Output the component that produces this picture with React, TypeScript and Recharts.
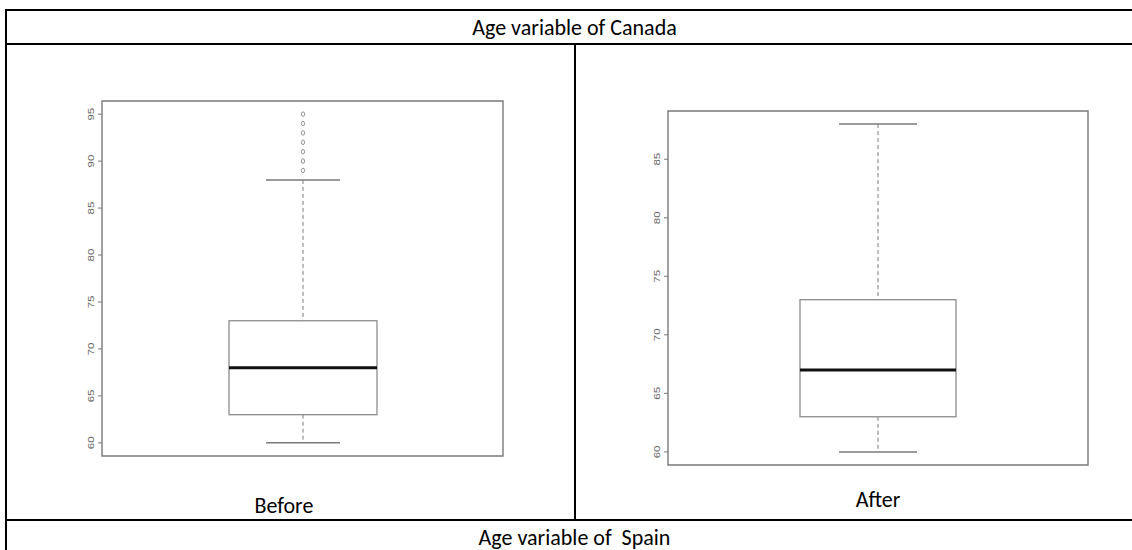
import { ComposedChart, Bar, XAxis, YAxis, ReferenceArea } from "recharts";

// five-number summaries: [lower whisker, Q1, median, Q3, upper whisker]
const categories = ["Age"];
const beforeStats = [60, 63, 68, 73, 88];
const beforeOutliers = [89, 90, 91, 92, 93, 94, 95];
const beforeTicks = [60, 65, 70, 75, 80, 85, 90, 95];
const afterStats = [60, 63, 67, 73, 88];
const afterOutliers: number[] = [];
const afterTicks = [60, 65, 70, 75, 80, 85];

const GRAY = "#7a7a7a";
const CELL_FONT = 'Carlito, "Liberation Sans Narrow", "Open Sans", sans-serif';

// R-style range: data extent padded by 4% on each side
function padDomain(stats: number[], outliers: number[]): [number, number] {
  const all = [...stats, ...outliers];
  const lo = Math.min(...all);
  const hi = Math.max(...all);
  const pad = (hi - lo) * 0.04;
  return [lo - pad, hi + pad];
}

function BoxShape(props: any) {
  const { x, y, width, height, payload } = props;
  const [lo, q1, med, q3, hi] = payload.stats as number[];
  const top = Math.min(y, y + height);
  const bottom = Math.max(y, y + height);
  // bar spans lo..hi, so map the other values linearly onto it
  const py = (v: number) => top + ((bottom - top) * (hi - v)) / (hi - lo);
  const cx = x + width / 2;
  const cap = width / 4;
  return (
    <g>
      <line x1={cx} x2={cx} y1={py(hi)} y2={py(q3)} stroke={GRAY} strokeWidth={1} strokeDasharray="4 3" />
      <line x1={cx} x2={cx} y1={py(q1)} y2={py(lo)} stroke={GRAY} strokeWidth={1} strokeDasharray="4 3" />
      <line x1={cx - cap} x2={cx + cap} y1={py(hi)} y2={py(hi)} stroke={GRAY} strokeWidth={1.5} />
      <line x1={cx - cap} x2={cx + cap} y1={py(lo)} y2={py(lo)} stroke={GRAY} strokeWidth={1.5} />
      <rect x={x} y={py(q3)} width={width} height={py(q1) - py(q3)} fill="#fff" stroke="#8c8c8c" strokeWidth={1.3} />
      <line x1={x} x2={x + width} y1={py(med)} y2={py(med)} stroke="#111" strokeWidth={3} />
      {(payload.outliers as number[]).map((v) => (
        <ellipse key={v} cx={cx} cy={py(v)} rx={1.6} ry={2.3} fill="none" stroke={GRAY} strokeWidth={0.8} />
      ))}
    </g>
  );
}

function RotatedTick(props: any) {
  const { x, y, payload } = props;
  return (
    <text
      transform={`translate(${x - 2} ${y}) scale(1 1.35) rotate(-90)`}
      textAnchor="middle"
      fontSize={8.5}
      fontFamily='"Liberation Sans", Arial, sans-serif'
      fill="#666"
    >
      {payload.value}
    </text>
  );
}

interface BoxPanelProps {
  stats: number[];
  outliers: number[];
  ticks: number[];
  width: number;
  height: number;
  margin: { top: number; right: number; bottom: number; left: number };
  boxWidth: number;
}

function BoxPanel({ stats, outliers, ticks, width, height, margin, boxWidth }: BoxPanelProps) {
  const domain = padDomain(stats, outliers);
  const data = categories.map((name) => ({ name, stats, outliers }));
  return (
    <ComposedChart width={width} height={height} data={data} margin={margin}>
      <XAxis dataKey="name" hide />
      <YAxis
        type="number"
        domain={domain}
        ticks={ticks}
        interval={0}
        allowDataOverflow
        width={42}
        axisLine={false}
        tickSize={4}
        tickLine={{ stroke: GRAY }}
        tick={<RotatedTick />}
      />
      <ReferenceArea
        y1={domain[0]}
        y2={domain[1]}
        fill="none"
        stroke={GRAY}
        strokeWidth={1.4}
        ifOverflow="visible"
      />
      <Bar
        dataKey={(d: any) => [d.stats[0], d.stats[4]]}
        barSize={boxWidth}
        shape={<BoxShape />}
        isAnimationActive={false}
      />
    </ComposedChart>
  );
}

const line = (left: number, top: number, width: number, height: number) => (
  <div style={{ position: "absolute", left, top, width, height, background: "#000" }} />
);

const cellText = (text: string, left: number, width: number, centerY: number) => (
  <div
    style={{
      position: "absolute",
      left,
      width,
      top: centerY - 15,
      height: 30,
      display: "flex",
      alignItems: "center",
      justifyContent: "center",
      fontFamily: CELL_FONT,
      fontSize: 22,
      color: "#000",
      whiteSpace: "pre",
    }}
  >
    {text}
  </div>
);

export default function App() {
  return (
    <div
      style={{
        position: "absolute",
        left: 0,
        top: 0,
        width: 1132,
        height: 550,
        overflow: "hidden",
        background: "#fff",
      }}
    >
      {line(5, 9, 1140, 2)}
      {line(5, 9, 2, 560)}
      {line(1142, 9, 2, 560)}
      {line(5, 43, 1140, 2)}
      {line(574, 43, 2, 478)}
      {line(5, 519, 1140, 2)}

      {cellText("Age variable of Canada", 7, 1135, 27)}
      {cellText("Before", 7, 554, 505)}
      {cellText("After", 600, 556, 499)}
      {cellText("Age variable of  Spain", 7, 1135, 537)}

      <div style={{ position: "absolute", left: 60, top: 90 }}>
        <BoxPanel
          stats={beforeStats}
          outliers={beforeOutliers}
          ticks={beforeTicks}
          width={460}
          height={380}
          margin={{ top: 11, right: 17, bottom: 14, left: 0 }}
          boxWidth={148}
        />
      </div>
      <div style={{ position: "absolute", left: 626, top: 100 }}>
        <BoxPanel
          stats={afterStats}
          outliers={afterOutliers}
          ticks={afterTicks}
          width={480}
          height={380}
          margin={{ top: 11, right: 18, bottom: 15, left: 0 }}
          boxWidth={156}
        />
      </div>
    </div>
  );
}
